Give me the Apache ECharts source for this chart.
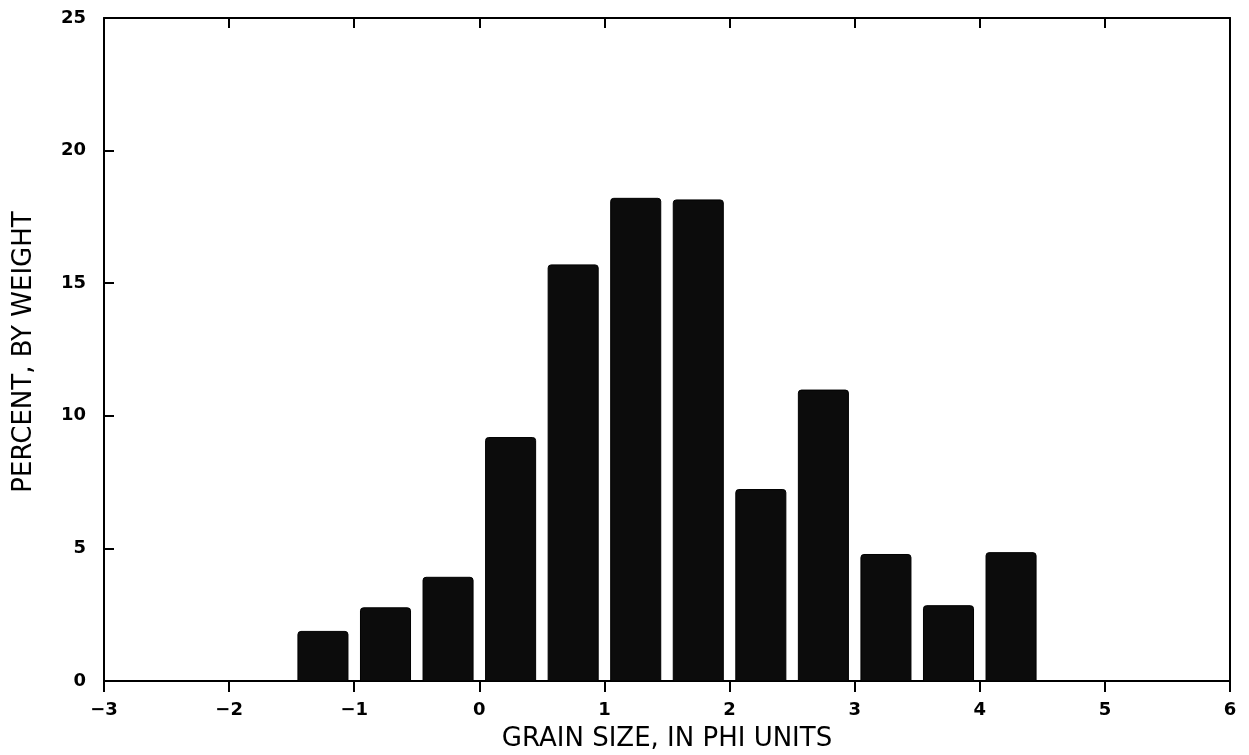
<!DOCTYPE html>
<html>
<head>
<meta charset="utf-8">
<script src="https://cdn.jsdelivr.net/npm/echarts@6/dist/echarts.min.js"></script>
<style>
html,body{margin:0;padding:0;background:#fff;}
#chart{width:1249px;height:755px;}
</style>
</head>
<body>
<div id="chart"></div>
<script>
// Grain size class centers (phi units) and percent by weight
const phiCenters = [-1.25, -0.75, -0.25, 0.25, 0.75, 1.25, 1.75, 2.25, 2.75, 3.25, 3.75, 4.25];
const percentWeight = [1.87, 2.76, 3.91, 9.18, 15.69, 18.2, 18.14, 7.22, 10.97, 4.77, 2.84, 4.84];
const xTicks = [-3, -2, -1, 0, 1, 2, 3, 4, 5, 6];
const yTicks = [0, 5, 10, 15, 20, 25];
const barWidthUnits = 0.4;

const xName = 'GRAIN SIZE, IN PHI UNITS';
const yName = 'PERCENT, BY WEIGHT';

const chart = echarts.init(document.getElementById('chart'), null, {renderer: 'canvas'});
const font = 'DejaVu Sans';
const fmt = v => (v < 0 ? '\u2212' + Math.abs(v) : String(v));

const option = {
  backgroundColor: '#fff',
  animation: false,
  grid: {left: 104, right: 19, top: 18, bottom: 74, containLabel: false, outerBoundsMode: 'none'},
  xAxis: [{
    type: 'value', min: xTicks[0], max: xTicks[xTicks.length - 1], interval: 1,
    position: 'bottom',
    axisLine: {show: true, onZero: false, lineStyle: {color: '#000', width: 2}},
    axisTick: {show: true, inside: false, length: 11, lineStyle: {color: '#000', width: 2}},
    splitLine: {show: false},
    axisLabel: {formatter: fmt, color: '#000', fontFamily: font, fontSize: 18, fontWeight: 'bold', margin: 20},
    name: xName, nameLocation: 'middle', nameGap: 45,
    nameTextStyle: {color: '#000', fontFamily: font, fontSize: 26}
  }, {
    type: 'value', min: xTicks[0], max: xTicks[xTicks.length - 1], interval: 1,
    position: 'top',
    axisLine: {show: true, onZero: false, lineStyle: {color: '#000', width: 2}},
    axisTick: {show: true, inside: true, length: 10, lineStyle: {color: '#000', width: 2}},
    axisLabel: {show: false}, splitLine: {show: false}
  }],
  yAxis: [{
    type: 'value', min: yTicks[0], max: yTicks[yTicks.length - 1], interval: 5,
    position: 'left',
    axisLine: {show: true, onZero: false, lineStyle: {color: '#000', width: 2}},
    axisTick: {show: true, inside: true, length: 10, lineStyle: {color: '#000', width: 2}},
    splitLine: {show: false},
    axisLabel: {color: '#000', fontFamily: font, fontSize: 18, fontWeight: 'bold', margin: 18}
  }, {
    type: 'value', min: yTicks[0], max: yTicks[yTicks.length - 1], interval: 5,
    position: 'right',
    axisLine: {show: true, onZero: false, lineStyle: {color: '#000', width: 2}},
    axisTick: {show: false}, axisLabel: {show: false}, splitLine: {show: false}
  }],
  graphic: [{
    type: 'text', x: 24, y: 352,
    rotation: Math.PI / 2,
    style: {text: yName, fill: '#000', font: '26px "DejaVu Sans"', align: 'center', verticalAlign: 'middle'}
  }],
  series: [{
    type: 'custom',
    xAxisIndex: 0, yAxisIndex: 0,
    data: phiCenters.map((x, i) => [x, percentWeight[i]]),
    renderItem: function (params, api) {
      const x = api.value(0), y = api.value(1);
      const p0 = api.coord([x - barWidthUnits / 2, y]);
      const p1 = api.coord([x + barWidthUnits / 2, 0]);
      return {
        type: 'rect',
        shape: {x: p0[0], y: p0[1], width: p1[0] - p0[0], height: p1[1] - p0[1], r: [3, 3, 0, 0]},
        style: {fill: '#0c0c0c', stroke: '#000', lineWidth: 1}
      };
    }
  }]
};
chart.setOption(option);
</script>
</body>
</html>
